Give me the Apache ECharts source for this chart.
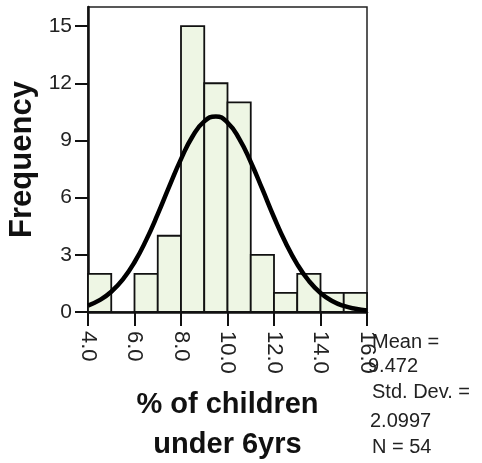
<!DOCTYPE html>
<html>
<head>
<meta charset="utf-8">
<script src="https://cdn.jsdelivr.net/npm/echarts@6/dist/echarts.min.js"></script>
<style>
html, body { margin: 0; padding: 0; background: #fff; }
#chart { width: 482px; height: 463px; }
</style>
</head>
<body>
<div id="chart"></div>
<script>
// histogram bins (left edge, width 1) and counts
var binStarts = [4, 5, 6, 7, 8, 9, 10, 11, 12, 13, 14, 15];
var binCounts = [2, 0, 2, 4, 15, 12, 11, 3, 1, 2, 1, 1];

// normal curve
var curveX = [4, 4.5, 5, 5.5, 6, 6.5, 7, 7.5, 8, 8.5, 9, 9.5, 10, 10.5, 11, 11.5, 12, 12.5, 13, 13.5, 14, 14.5, 15, 15.5, 16];
var curveY = [0.34, 0.62, 1.06, 1.71, 2.61, 3.77, 5.13, 6.6, 8.02, 9.22, 10.0, 10.26, 9.94, 9.1, 7.87, 6.44, 4.97, 3.63, 2.5, 1.63, 1.0, 0.58, 0.32, 0.17, 0.08];

var yTicks = [0, 3, 6, 9, 12, 15];
var statLines = ['Mean =', '9.472', 'Std. Dev. =', '2.0997', 'N = 54'];

var chart = echarts.init(document.getElementById('chart'));

var barData = binStarts.map(function (s, i) {
	return [s, s + 1, binCounts[i]];
});
var curveData = curveX.map(function (x, i) {
	return [x, curveY[i]];
});

var statPos = [[372, 332], [368, 356], [372, 382], [370, 411], [372, 437]];

var option = {
	animation: false,
	textStyle: { fontFamily: 'Liberation Sans, Arial, sans-serif' },
	grid: {
		left: 88, right: 115, top: 7, bottom: 151,
		outerBoundsMode: 'none',
		containLabel: false,
		show: true,
		borderColor: '#222',
		borderWidth: 1.5
	},
	xAxis: {
		type: 'value',
		min: 4, max: 16, interval: 2,
		name: '% of children\nunder 6yrs',
		nameLocation: 'middle',
		nameGap: 73,
		nameTextStyle: { fontSize: 29, fontWeight: 'bold', color: '#111', lineHeight: 40 },
		splitLine: { show: false },
		axisLine: { lineStyle: { color: '#111', width: 2.5 } },
		axisTick: { length: 14, lineStyle: { color: '#111', width: 2 } },
		axisLabel: {
			rotate: -90,
			margin: 19,
			fontSize: 22,
			color: '#222',
			formatter: function (v) { return v.toFixed(1); }
		}
	},
	yAxis: {
		type: 'value',
		min: 0, max: 16,
		name: 'Frequency',
		nameLocation: 'middle',
		nameGap: 50,
		nameTextStyle: { fontSize: 31, fontWeight: 'bold', color: '#111' },
		splitLine: { show: false },
		axisLine: { show: true, lineStyle: { color: '#111', width: 2.5 } },
		axisTick: { show: true, length: 13, customValues: yTicks, lineStyle: { color: '#111', width: 2 } },
		axisLabel: { margin: 16, fontSize: 21, color: '#222', customValues: yTicks }
	},
	series: [{
		type: 'custom',
		data: barData,
		renderItem: function (params, api) {
			if (api.value(2) <= 0) return null;
			var p0 = api.coord([api.value(0), api.value(2)]);
			var p1 = api.coord([api.value(1), 0]);
			return {
				type: 'rect',
				shape: { x: p0[0], y: p0[1], width: p1[0] - p0[0], height: p1[1] - p0[1] },
				style: { fill: '#eef6e4', stroke: '#111', lineWidth: 1.8 }
			};
		},
		z: 2
	}, {
		type: 'line',
		data: curveData,
		smooth: true,
		showSymbol: false,
		lineStyle: { color: '#000', width: 4.5 },
		z: 3
	}],
	graphic: statLines.map(function (t, i) {
		return {
			type: 'text',
			left: statPos[i][0],
			top: statPos[i][1],
			z: 10,
			style: { text: t, fontSize: 20, fill: '#222', fontFamily: 'Liberation Sans, Arial, sans-serif' }
		};
	})
};

chart.setOption(option);
window.onresize = function () {
	chart.resize();
};
</script>
</body>
</html>
